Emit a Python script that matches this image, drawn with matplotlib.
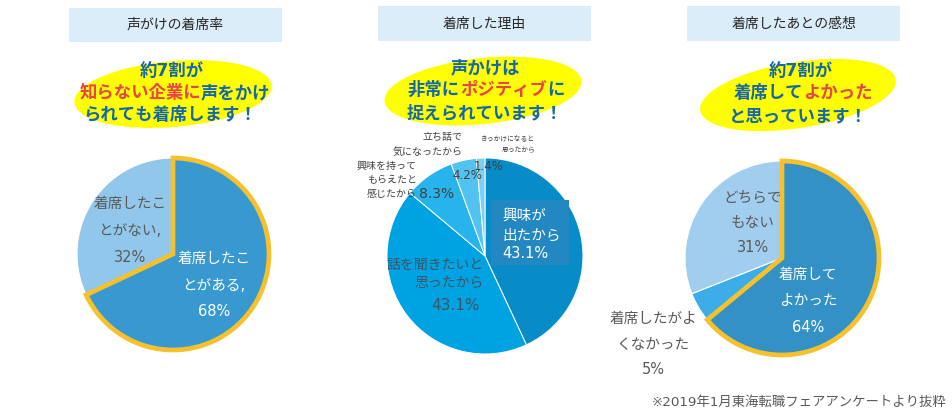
import matplotlib
matplotlib.use("Agg")
import matplotlib.pyplot as plt
from matplotlib.patches import Ellipse, Rectangle

plt.rcParams['font.family'] = ['DejaVu Sans', 'Noto Sans CJK JP']

# ---------------- data ----------------
panel_titles = ['声がけの着席率', '着席した理由', '着席したあとの感想']

left_labels = ['着席したことがある', '着席したことがない']
left_values = [68, 32]

mid_labels = ['興味が出たから', '話を聞きたいと思ったから', '興味を持ってもらえたと感じたから',
              '立ち話で気になったから', 'きっかけになると思ったから']
mid_values = [43.1, 43.1, 8.3, 4.2, 1.4]

right_labels = ['着席してよかった', '着席したがよくなかった', 'どちらでもない']
right_values = [64, 5, 31]

footnote = '※2019年1月東海転職フェアアンケートより抜粋'

BLUE_T = '#1467a8'
RED_T = '#e8454a'
GRAY = '#595959'
YEL_EDGE = '#f7c12d'

W, H = 953, 413
fig = plt.figure(figsize=(W / 100, H / 100), dpi=100)
ax = fig.add_axes([0, 0, 1, 1])
ax.set_facecolor('white')


def Y(y):
    return H - y


renderer = fig.canvas.get_renderer()


def mixed_line(xc, y, segments, size=12.5, weight='bold'):
    texts, widths = [], []
    for s, c in segments:
        t = ax.text(0, Y(y), s, color=c, fontsize=size, fontweight=weight,
                    ha='left', va='center', zorder=6)
        widths.append(t.get_window_extent(renderer=renderer).width)
        texts.append(t)
    x = xc - sum(widths) / 2
    for t, w in zip(texts, widths):
        t.set_x(x)
        x += w


def lines(x, ys, strs, color, size, ha='center'):
    for yy, s in zip(ys, strs):
        ax.text(x, Y(yy), s, color=color, fontsize=size, ha=ha, va='center', zorder=6)


# ---------------- title boxes ----------------
boxes = [(69, 8, 213, 34), (378, 6, 213, 35), (687, 6, 213, 35)]
for (bx, by, bw, bh), title in zip(boxes, panel_titles):
    ax.add_patch(Rectangle((bx, Y(by + bh)), bw, bh, facecolor='#dbedf8', edgecolor='none', zorder=1))
    ax.text(bx + bw / 2, Y(by + bh / 2), title, fontsize=10, color='#262626',
            ha='center', va='center', zorder=2)

# ---------------- yellow ellipses ----------------
for cx, cy, ang in [(173, 94, 5), (483, 91, 6), (798, 95, 9)]:
    ax.add_patch(Ellipse((cx, Y(cy)), 198, 66, angle=ang, facecolor='#ffff00',
                         edgecolor='none', zorder=3))

mixed_line(172, 71, [('約7割が', BLUE_T)])
mixed_line(175, 93, [('知らない企業に', RED_T), ('声をかけ', BLUE_T)])
mixed_line(170, 115, [('られても着席します！', BLUE_T)])

mixed_line(485, 68, [('声かけは', BLUE_T)])
mixed_line(486, 90, [('非常に', BLUE_T), ('ポジティブ', RED_T), ('に', BLUE_T)])
mixed_line(485, 113, [('捉えられています！', BLUE_T)])

mixed_line(801, 71, [('約7割が', BLUE_T)])
mixed_line(803, 93, [('着席して', BLUE_T), ('よかった', RED_T)])
mixed_line(798, 116, [('と思っています！', BLUE_T)])

# ---------------- left pie ----------------
wl, _ = ax.pie(left_values, startangle=90, counterclock=False, center=(173, Y(254)),
               radius=96, colors=['#3799cf', '#90c7eb'],
               wedgeprops=dict(edgecolor='white', linewidth=0.8))
wl[0].set_edgecolor(YEL_EDGE)
wl[0].set_linewidth(3.4)
wl[0].set_zorder(4)
wl[1].set_zorder(3)

lines(214, [258, 285, 311], ['着席したこ', 'とがある,', f'{left_values[0]}%'], 'white', 10.5)
lines(130, [204, 231, 257], ['着席したこ', 'とがない,', f'{left_values[1]}%'], GRAY, 10.5)

# ---------------- middle pie ----------------
mid_colors = ['#078cc8', '#00a3e2', '#27b4ec', '#52c3f0', '#7bd0f3']
wm, _ = ax.pie(mid_values, startangle=90, counterclock=False, center=(485, Y(256)),
               radius=98, colors=mid_colors,
               wedgeprops=dict(edgecolor='white', linewidth=0.7))
for w in wm:
    w.set_zorder(3)

ax.add_patch(Rectangle((491, Y(265)), 78, 65, facecolor='#2388c1', edgecolor='none', zorder=4))
lines(502, [216, 235, 253], ['興味が', '出たから', f'{mid_values[0]}%'], 'white', 10.5, ha='left')

MIDTXT = '#3b5566'
lines(484, [265, 283], ['話を聞きたいと', '思ったから'], MIDTXT, 10, ha='right')
lines(456, [305], [f'{mid_values[1]}%'], MIDTXT, 11)

lines(417, [166, 180, 194], ['興味を持って', 'もらえたと', '感じたから'], '#404040', 7.2, ha='right')
lines(437, [194], [f'{mid_values[2]}%'], '#404040', 10)

lines(463, [137, 152], ['立ち話で', '気になったから'], '#404040', 7.2, ha='right')
lines(467, [176], [f'{mid_values[3]}%'], '#404040', 8.5)

lines(535, [139, 150], ['きっかけになると', '思ったから'], '#404040', 4.9, ha='right')
lines(489, [167], [f'{mid_values[4]}%'], '#404040', 8.5)

# ---------------- right pie ----------------
wr, _ = ax.pie(right_values, startangle=90, counterclock=False, center=(782, Y(258)),
               radius=97, colors=['#3391c6', '#3cade8', '#a1cdef'],
               wedgeprops=dict(edgecolor='white', linewidth=0.8))
wr[0].set_edgecolor(YEL_EDGE)
wr[0].set_linewidth(3.4)
wr[0].set_zorder(4)
for w in wr[1:]:
    w.set_zorder(3)

lines(808, [275, 301, 327], ['着席して', 'よかった', f'{right_values[0]}%'], 'white', 10.5)
lines(753, [197, 223, 248], ['どちらで', 'もない', f'{right_values[2]}%'], GRAY, 10.5)
lines(653, [318, 344, 370], ['着席したがよ', 'くなかった', f'{right_values[1]}%'], GRAY, 10.5)

# ---------------- footnote ----------------
ax.text(947, Y(402), footnote, fontsize=9.6, color=GRAY, ha='right', va='center')

ax.set_xlim(0, W)
ax.set_ylim(0, H)
ax.set_aspect('equal')
ax.axis('off')

fig.savefig('out.png', dpi=100, facecolor='white')
